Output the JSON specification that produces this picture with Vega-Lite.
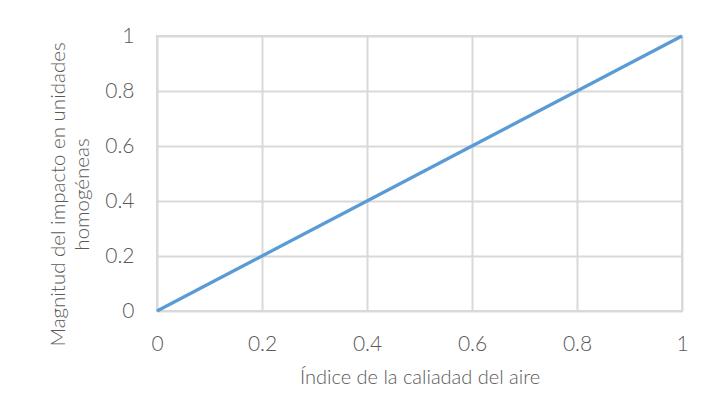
{
  "$schema": "https://vega.github.io/schema/vega-lite/v6.json",
  "width": 525,
  "height": 275,
  "autosize": {"type": "none"},
  "padding": {"left": 157, "top": 36, "right": 24, "bottom": 109},
  "background": "white",
  "data": {"values": [
    {"x": 0, "y": 0},
    {"x": 0.2, "y": 0.2},
    {"x": 0.4, "y": 0.4},
    {"x": 0.6, "y": 0.6},
    {"x": 0.8, "y": 0.8},
    {"x": 1, "y": 1}
  ]},
  "mark": {"type": "line", "color": "#5b9bd5", "strokeWidth": 3.2, "clip": false},
  "encoding": {
    "x": {
      "field": "x", "type": "quantitative",
      "scale": {"domain": [0, 1], "nice": false, "zero": false},
      "axis": {
        "values": [0, 0.2, 0.4, 0.6, 0.8, 1],
        "format": "~g",
        "title": "Índice de la caliadad del aire",
        "titleFontSize": 20, "titleFontWeight": 300, "titleColor": "#595959", "titleFont": "Lato",
        "titlePadding": 13,
        "labelFont": "Lato", "labelFontSize": 21, "labelFontWeight": 300, "labelColor": "#595959", "labelPadding": 22,
        "labelFlush": false,
        "ticks": false, "domain": false,
        "grid": true, "gridColor": "#d9d9d9", "gridWidth": 2
      }
    },
    "y": {
      "field": "y", "type": "quantitative",
      "scale": {"domain": [0, 1], "nice": false, "zero": false},
      "axis": {
        "values": [0, 0.2, 0.4, 0.6, 0.8, 1],
        "format": "~g",
        "title": ["Magnitud del impacto en unidades", "homogéneas"],
        "titleFontSize": 20.5, "titleFontWeight": 300, "titleColor": "#595959", "titleFont": "Lato",
        "titlePadding": 12, "titleLineHeight": 24, "titleY": 158,
        "labelFont": "Lato", "labelFontSize": 21, "labelFontWeight": 300, "labelColor": "#595959", "labelPadding": 23,
        "labelFlush": false,
        "ticks": false, "domain": false,
        "grid": true, "gridColor": "#d9d9d9", "gridWidth": 2
      }
    }
  },
  "config": {"view": {"stroke": "#d9d9d9", "strokeWidth": 2}}
}
